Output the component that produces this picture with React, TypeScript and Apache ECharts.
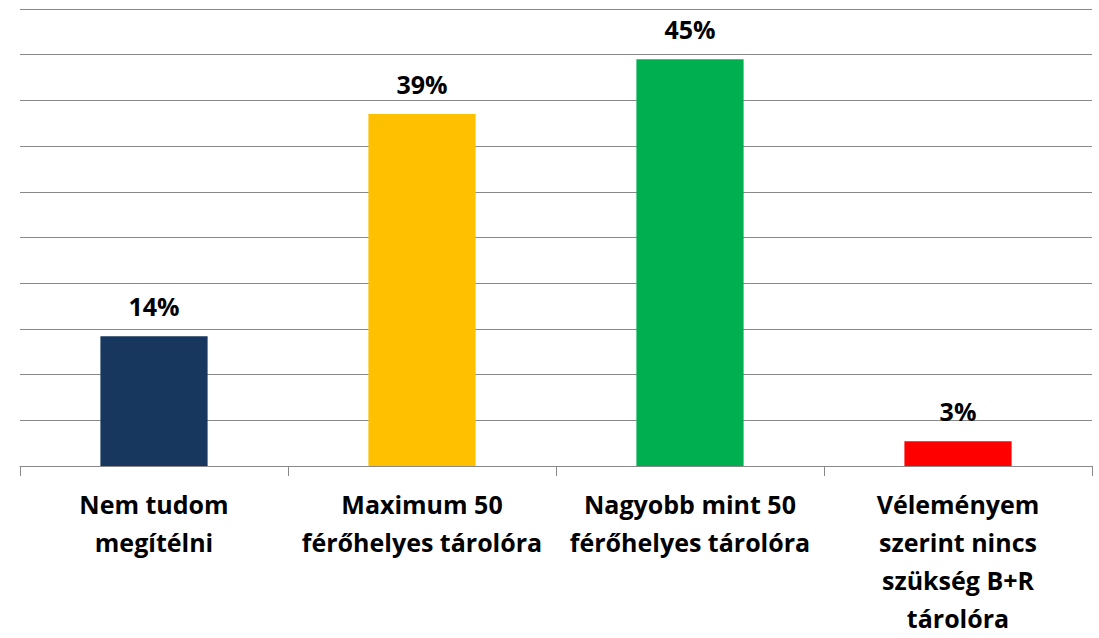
import React, { useEffect, useRef } from "react";
import * as echarts from "echarts";

const categories = [
  "Nem tudom\nmegítélni",
  "Maximum 50\nférőhelyes tárolóra",
  "Nagyobb mint 50\nférőhelyes tárolóra",
  "Véleményem\nszerint nincs\nszükség B+R\ntárolóra",
];
const values = [14.2, 38.5, 44.5, 2.7];
const labels = ["14%", "39%", "45%", "3%"];
const colors = ["#17375E", "#FFC000", "#00B050", "#FF0000"];

export default function App() {
  const ref = useRef<HTMLDivElement>(null);
  useEffect(() => {
    document.body.style.margin = "0";
    const chart = echarts.init(ref.current!, null, { renderer: "svg" });
    const font = "'Open Sans', sans-serif";
    chart.setOption({
      animation: false,
      grid: { left: 20, right: 7, top: 9, bottom: 172, containLabel: false, outerBoundsMode: "none" },
      xAxis: {
        type: "category",
        data: categories,
        axisLine: { show: true, lineStyle: { color: "#898989", width: 1 } },
        axisTick: { show: true, length: 10, lineStyle: { color: "#898989" } },
        axisLabel: {
          interval: 0,
          margin: 19,
          color: "#000",
          fontFamily: font,
          fontWeight: "bold",
          fontSize: 25,
          lineHeight: 38,
        },
      },
      yAxis: {
        type: "value",
        min: 0,
        max: 50,
        interval: 5,
        axisLine: { show: false },
        axisTick: { show: false },
        axisLabel: { show: false },
        splitLine: { lineStyle: { color: "#898989", width: 1 } },
      },
      series: [
        {
          type: "bar",
          barWidth: "40%",
          data: values.map((v, i) => ({ value: v, itemStyle: { color: colors[i] } })),
          label: {
            show: true,
            position: "top",
            distance: 18,
            color: "#000",
            fontFamily: font,
            fontWeight: "bold",
            fontSize: 25,
            formatter: (p: any) => labels[p.dataIndex],
          },
        },
      ],
    });
    return () => chart.dispose();
  }, []);
  return <div ref={ref} style={{ width: 1099, height: 638 }} />;
}
